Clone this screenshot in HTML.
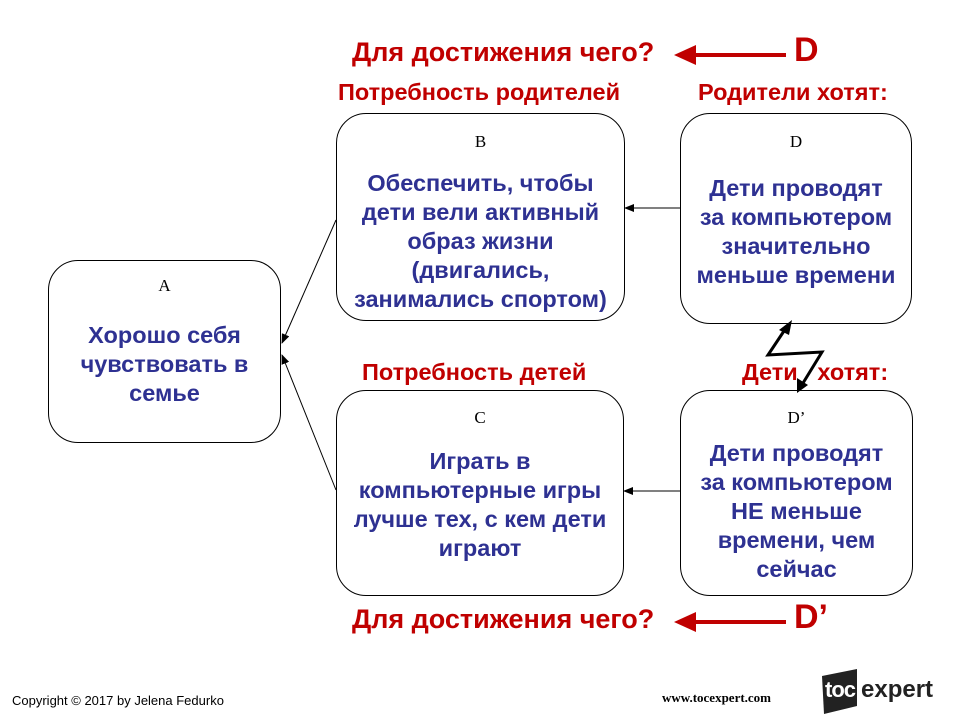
<!DOCTYPE html>
<html><head><meta charset="utf-8"><style>
body{margin:0;width:960px;height:720px;background:#fff;position:relative;overflow:hidden;font-family:"Liberation Sans",Arial,sans-serif}
.box{position:absolute;border:1.3px solid #000;border-radius:30px;box-sizing:border-box;background:#fff}
.t{position:absolute;text-align:center;font-weight:bold;color:#2e3192;font-size:23.5px;line-height:29px;white-space:nowrap}
.l{position:absolute;font-family:"Liberation Serif",serif;font-size:17px;text-align:center}
.r{position:absolute;color:#c00000;font-weight:bold;font-size:23.5px;white-space:nowrap}
</style></head><body>
<div class="box" style="left:48px;top:260px;width:233px;height:183px"></div>
<div class="box" style="left:336px;top:113px;width:289px;height:208px"></div>
<div class="box" style="left:680px;top:113px;width:232px;height:211px"></div>
<div class="box" style="left:336px;top:390px;width:288px;height:206px"></div>
<div class="box" style="left:680px;top:390px;width:233px;height:206px"></div>

<div class="l" style="left:48px;width:233px;top:276px">A</div>
<div class="l" style="left:336px;width:289px;top:132px">B</div>
<div class="l" style="left:680px;width:232px;top:132px">D</div>
<div class="l" style="left:336px;width:288px;top:408px">C</div>
<div class="l" style="left:680px;width:233px;top:408px">D’</div>

<div class="t" style="left:48px;width:233px;top:321px">Хорошо себя<br>чувствовать в<br>семье</div>
<div class="t" style="left:336px;width:289px;top:169px">Обеспечить, чтобы<br>дети вели активный<br>образ жизни<br>(двигались,<br>занимались спортом)</div>
<div class="t" style="left:680px;width:232px;top:174px">Дети проводят<br>за компьютером<br>значительно<br>меньше времени</div>
<div class="t" style="left:336px;width:288px;top:447px">Играть в<br>компьютерные игры<br>лучше тех, с кем дети<br>играют</div>
<div class="t" style="left:680px;width:233px;top:439px">Дети проводят<br>за компьютером<br>НЕ меньше<br>времени, чем<br>сейчас</div>

<div class="r" style="left:352px;top:37px;font-size:27px">Для достижения чего?</div>
<div class="r" style="left:352px;top:604px;font-size:27px">Для достижения чего?</div>
<div class="r" style="left:338px;top:79px">Потребность родителей</div>
<div class="r" style="left:698px;top:79px">Родители хотят:</div>
<div class="r" style="left:362px;top:359px">Потребность детей</div>
<div class="r" style="left:742px;top:359px">Дети&nbsp;&nbsp; хотят:</div>
<div class="r" style="left:794px;top:31px;font-size:34px">D</div>
<div class="r" style="left:794px;top:598px;font-size:34px">D’</div>

<svg width="960" height="720" style="position:absolute;left:0;top:0">
<defs>
<marker id="a" markerWidth="10" markerHeight="8" refX="9" refY="4" orient="auto" markerUnits="userSpaceOnUse"><path d="M0,0L10,4L0,8z" fill="#000"/></marker>
</defs>
<g stroke="#000" stroke-width="1" fill="none">
<line x1="680" y1="208" x2="625" y2="208" marker-end="url(#a)"/>
<line x1="680" y1="491" x2="624" y2="491" marker-end="url(#a)"/>
<line x1="336" y1="220" x2="282" y2="343" marker-end="url(#a)"/>
<line x1="336" y1="490" x2="282" y2="355" marker-end="url(#a)"/>
</g>
<polyline points="788,325 768,355 822,352 800,388" stroke="#000" stroke-width="3" fill="none"/>
<path d="M792,320 L779,330 L789,335z" fill="#000"/>
<path d="M797,393 L797,378 L808,385z" fill="#000"/>
<line x1="786" y1="55" x2="690" y2="55" stroke="#c00000" stroke-width="4"/>
<path d="M674,55 L696,45 L696,65z" fill="#c00000"/>
<line x1="786" y1="622" x2="690" y2="622" stroke="#c00000" stroke-width="4"/>
<path d="M674,622 L696,612 L696,632z" fill="#c00000"/>
<path d="M822,676 L857,669 L857,706 L824,714z" fill="#222"/>
</svg>
<div style="position:absolute;left:12px;top:693px;font-size:13px">Copyright © 2017 by Jelena Fedurko</div>
<div style="position:absolute;left:662px;top:690px;font-family:'Liberation Serif',serif;font-weight:bold;font-size:13px">www.tocexpert.com</div>
<div style="position:absolute;left:825px;top:677px;font-weight:bold;font-size:22px;color:#fff;letter-spacing:-1px">toc</div>
<div style="position:absolute;left:861px;top:676px;font-weight:bold;font-size:24px;color:#222">expert</div>
</body></html>
